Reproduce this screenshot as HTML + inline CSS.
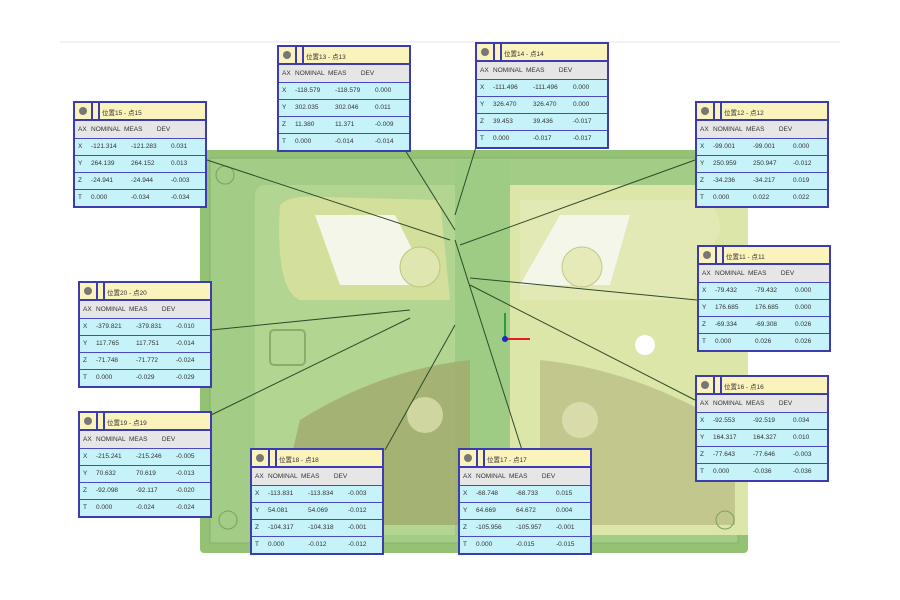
<!DOCTYPE html>
<html><head><meta charset="utf-8"><style>
body{margin:0;width:900px;height:600px;background:#fff;position:relative;overflow:hidden;font-family:"Liberation Sans","Noto Sans CJK SC",sans-serif}
svg{position:absolute;left:0;top:0}
.t{position:absolute;width:130px;border:2px solid #3c3cb0;background:#c6f3fa;font-size:6.5px;color:#333;box-sizing:content-box}
.h{height:16px;background:#fbf3bc;border-bottom:2px solid #3c3cb0;position:relative}
.h i{position:absolute;left:4px;top:4px;width:8px;height:8px;border-radius:50%;background:#777}
.h b{position:absolute;left:16px;top:0;width:5px;height:16px;border-left:2px solid #3c3cb0;border-right:2px solid #3c3cb0}
.h span{position:absolute;left:27px;top:4px}
.r{height:16px;line-height:16px;border-top:1.5px solid #4848c0;white-space:pre;padding-left:3px}
.c{background:#e6e6e6;border-top:none;height:17px;line-height:17px}
.r s{text-decoration:none;display:inline-block;width:13px}
.r u{text-decoration:none;display:inline-block;width:40px}
</style></head><body>
<svg width="900" height="600">
<line x1="60" y1="42" x2="840" y2="42" stroke="#e6e6e6"/>
<rect x="200" y="150" width="548" height="403" fill="#93c275" rx="4"/>
<rect x="210" y="158" width="528" height="385" fill="#a3cd86" stroke="#86b16a"/>
<rect x="255" y="185" width="440" height="350" fill="#b2d591" rx="10"/>
<rect x="510" y="185" width="238" height="350" fill="#dbe6a8"/>
<rect x="455" y="160" width="55" height="375" fill="#9fcc84"/>
<path d="M280,205 Q290,195 320,197 L440,200 L450,300 L300,300 Q275,290 280,205Z" fill="#d2e09c"/>
<path d="M520,200 L700,200 Q720,205 720,230 L690,300 L520,300Z" fill="#e2e9b4"/>
<polygon points="315,215 395,215 430,285 340,285" fill="#f4f6ea"/>
<polygon points="560,215 630,215 610,285 520,285" fill="#f4f6ea"/>
<circle cx="420" cy="267" r="20" fill="#e0e6b0" stroke="#b9c57e"/>
<circle cx="582" cy="267" r="20" fill="#e6eab8" stroke="#c0c88a"/>
<path d="M275,525 L300,420 Q380,370 470,360 L470,525Z" fill="#a0aa6c" opacity=".8"/>
<path d="M540,360 Q640,370 735,430 L735,525 L540,525Z" fill="#bcc086" opacity=".8"/>
<circle cx="425" cy="415" r="18" fill="#cfd6a0"/>
<circle cx="580" cy="420" r="18" fill="#d9dcaa"/>
<rect x="270" y="330" width="35" height="35" fill="none" stroke="#86b06a" stroke-width="2" rx="4"/>
<circle cx="645" cy="345" r="10" fill="#fff"/>
<circle cx="225" cy="175" r="9" fill="none" stroke="#7aa060"/>
<circle cx="228" cy="520" r="9" fill="none" stroke="#7aa060"/>
<circle cx="725" cy="520" r="9" fill="none" stroke="#7aa060"/>
<g stroke="#2f4a2a" stroke-width="1">
<line x1="207" y1="160" x2="450" y2="240"/>
<line x1="405" y1="150" x2="455" y2="230"/>
<line x1="476" y1="147" x2="455" y2="215"/>
<line x1="695" y1="160" x2="460" y2="245"/>
<line x1="211" y1="330" x2="410" y2="310"/>
<line x1="697" y1="300" x2="470" y2="278"/>
<line x1="211" y1="415" x2="410" y2="318"/>
<line x1="695" y1="400" x2="470" y2="285"/>
<line x1="385" y1="450" x2="455" y2="325"/>
<line x1="522" y1="450" x2="455" y2="240"/>
</g>
<line x1="505" y1="339" x2="505" y2="313" stroke="#2a9a3a" stroke-width="2"/>
<line x1="505" y1="339" x2="530" y2="339" stroke="#e02020" stroke-width="2"/>
<circle cx="505" cy="339" r="3" fill="#1a2ac0"/>
</svg>

<div class="t" style="left:73px;top:101px"><div class="h"><i></i><b></b><span>位置15 - 点15</span></div><div class="r c"><s>AX</s>NOMINAL  MEAS        DEV</div><div class="r"><s>X</s><u>-121.314</u><u>-121.283</u>0.031</div><div class="r"><s>Y</s><u>264.139</u><u>264.152</u>0.013</div><div class="r"><s>Z</s><u>-24.941</u><u>-24.944</u>-0.003</div><div class="r"><s>T</s><u>0.000</u><u>-0.034</u>-0.034</div></div>

<div class="t" style="left:277px;top:45px"><div class="h"><i></i><b></b><span>位置13 - 点13</span></div><div class="r c"><s>AX</s>NOMINAL  MEAS        DEV</div><div class="r"><s>X</s><u>-118.579</u><u>-118.579</u>0.000</div><div class="r"><s>Y</s><u>302.035</u><u>302.046</u>0.011</div><div class="r"><s>Z</s><u>11.380</u><u>11.371</u>-0.009</div><div class="r"><s>T</s><u>0.000</u><u>-0.014</u>-0.014</div></div>

<div class="t" style="left:475px;top:42px"><div class="h"><i></i><b></b><span>位置14 - 点14</span></div><div class="r c"><s>AX</s>NOMINAL  MEAS        DEV</div><div class="r"><s>X</s><u>-111.496</u><u>-111.496</u>0.000</div><div class="r"><s>Y</s><u>326.470</u><u>326.470</u>0.000</div><div class="r"><s>Z</s><u>39.453</u><u>39.436</u>-0.017</div><div class="r"><s>T</s><u>0.000</u><u>-0.017</u>-0.017</div></div>

<div class="t" style="left:695px;top:101px"><div class="h"><i></i><b></b><span>位置12 - 点12</span></div><div class="r c"><s>AX</s>NOMINAL  MEAS        DEV</div><div class="r"><s>X</s><u>-99.001</u><u>-99.001</u>0.000</div><div class="r"><s>Y</s><u>250.959</u><u>250.947</u>-0.012</div><div class="r"><s>Z</s><u>-34.236</u><u>-34.217</u>0.019</div><div class="r"><s>T</s><u>0.000</u><u>0.022</u>0.022</div></div>

<div class="t" style="left:78px;top:281px"><div class="h"><i></i><b></b><span>位置20 - 点20</span></div><div class="r c"><s>AX</s>NOMINAL  MEAS        DEV</div><div class="r"><s>X</s><u>-379.821</u><u>-379.831</u>-0.010</div><div class="r"><s>Y</s><u>117.765</u><u>117.751</u>-0.014</div><div class="r"><s>Z</s><u>-71.748</u><u>-71.772</u>-0.024</div><div class="r"><s>T</s><u>0.000</u><u>-0.029</u>-0.029</div></div>

<div class="t" style="left:697px;top:245px"><div class="h"><i></i><b></b><span>位置11 - 点11</span></div><div class="r c"><s>AX</s>NOMINAL  MEAS        DEV</div><div class="r"><s>X</s><u>-79.432</u><u>-79.432</u>0.000</div><div class="r"><s>Y</s><u>176.685</u><u>176.685</u>0.000</div><div class="r"><s>Z</s><u>-69.334</u><u>-69.308</u>0.026</div><div class="r"><s>T</s><u>0.000</u><u>0.026</u>0.026</div></div>

<div class="t" style="left:78px;top:411px"><div class="h"><i></i><b></b><span>位置19 - 点19</span></div><div class="r c"><s>AX</s>NOMINAL  MEAS        DEV</div><div class="r"><s>X</s><u>-215.241</u><u>-215.246</u>-0.005</div><div class="r"><s>Y</s><u>70.632</u><u>70.619</u>-0.013</div><div class="r"><s>Z</s><u>-92.098</u><u>-92.117</u>-0.020</div><div class="r"><s>T</s><u>0.000</u><u>-0.024</u>-0.024</div></div>

<div class="t" style="left:695px;top:375px"><div class="h"><i></i><b></b><span>位置16 - 点16</span></div><div class="r c"><s>AX</s>NOMINAL  MEAS        DEV</div><div class="r"><s>X</s><u>-92.553</u><u>-92.519</u>0.034</div><div class="r"><s>Y</s><u>164.317</u><u>164.327</u>0.010</div><div class="r"><s>Z</s><u>-77.643</u><u>-77.646</u>-0.003</div><div class="r"><s>T</s><u>0.000</u><u>-0.036</u>-0.036</div></div>

<div class="t" style="left:250px;top:448px"><div class="h"><i></i><b></b><span>位置18 - 点18</span></div><div class="r c"><s>AX</s>NOMINAL  MEAS        DEV</div><div class="r"><s>X</s><u>-113.831</u><u>-113.834</u>-0.003</div><div class="r"><s>Y</s><u>54.081</u><u>54.069</u>-0.012</div><div class="r"><s>Z</s><u>-104.317</u><u>-104.318</u>-0.001</div><div class="r"><s>T</s><u>0.000</u><u>-0.012</u>-0.012</div></div>

<div class="t" style="left:458px;top:448px"><div class="h"><i></i><b></b><span>位置17 - 点17</span></div><div class="r c"><s>AX</s>NOMINAL  MEAS        DEV</div><div class="r"><s>X</s><u>-68.748</u><u>-68.733</u>0.015</div><div class="r"><s>Y</s><u>64.669</u><u>64.672</u>0.004</div><div class="r"><s>Z</s><u>-105.956</u><u>-105.957</u>-0.001</div><div class="r"><s>T</s><u>0.000</u><u>-0.015</u>-0.015</div></div>
</body></html>
